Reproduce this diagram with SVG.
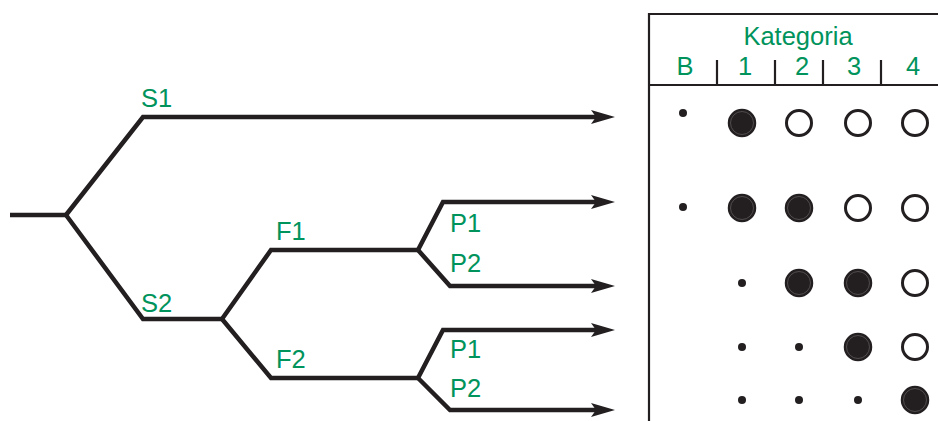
<svg xmlns="http://www.w3.org/2000/svg" width="938" height="421" viewBox="0 0 938 421">
<style>
.br{fill:none;stroke:#231f20;stroke-width:4.5;stroke-linejoin:miter}
.ar{marker-end:url(#arr)}
.lb{font-family:"Liberation Sans",Arial,sans-serif;font-size:25.5px;fill:#00935c}
.hd{font-family:"Liberation Sans",Arial,sans-serif;font-size:25.5px;fill:#00935c;text-anchor:middle}
.tb{fill:none;stroke:#231f20;stroke-width:2.2}
.f{fill:#231f20;stroke:#231f20;stroke-width:1.5}
.fi{fill:none;stroke:#6e6a6b;stroke-width:0.6}
.o{fill:#fff;stroke:#231f20;stroke-width:3}
.d{fill:#231f20}
</style>
<defs>
<marker id="arr" markerUnits="userSpaceOnUse" viewBox="0 0 24 14" refX="5" refY="7" markerWidth="24" markerHeight="14" orient="auto">
<path d="M0,0 L24,7 L0,14 L5,7 Z" fill="#231f20"/>
</marker>
<g id="full"><circle r="13.5" class="f"/><circle r="11.5" class="fi"/></g>
<circle id="open" r="12.5" class="o"/>
<circle id="dot" r="4" class="d"/>
</defs>
<g id="connectors">
<path class="br" d="M10,215 H66"/>
<path class="br ar" d="M66,215 L143,117 H596"/>
<path class="br" d="M66,215 L143,319 H222"/>
<path class="br" d="M222,319 L271,250 H418"/>
<path class="br" d="M222,319 L271,378 H418"/>
<path class="br ar" d="M418,250 L443,202 H596"/>
<path class="br ar" d="M418,250 L450,286 H596"/>
<path class="br ar" d="M418,378 L443,330 H596"/>
<path class="br ar" d="M418,378 L450,410 H596"/>
</g>
<g id="node-S1"><text class="lb" x="141" y="107">S1</text></g>
<g id="node-S2"><text class="lb" x="141" y="312">S2</text></g>
<g id="node-F1"><text class="lb" x="276" y="240">F1</text></g>
<g id="node-F2"><text class="lb" x="276" y="368">F2</text></g>
<g id="node-F1P1"><text class="lb" x="450" y="232">P1</text></g>
<g id="node-F1P2"><text class="lb" x="450" y="272">P2</text></g>
<g id="node-F2P1"><text class="lb" x="450" y="358">P1</text></g>
<g id="node-F2P2"><text class="lb" x="450" y="397">P2</text></g>
<g id="table">
<path class="tb" d="M649,421 V14 H938"/>
<path class="tb" d="M649,85 H938"/>
<path class="tb" d="M717,60 V85 M775,60 V85 M823,60 V85 M881,60 V85"/>
<text class="hd" x="798" y="45">Kategoria</text>
<text class="hd" x="685" y="75">B</text>
<text class="hd" x="745" y="75">1</text>
<text class="hd" x="802" y="75">2</text>
<text class="hd" x="854" y="75">3</text>
<text class="hd" x="913" y="75">4</text>
</g>
<g id="row1">
<use href="#dot" x="683" y="113"/>
<use href="#full" x="742" y="123"/>
<use href="#open" x="799" y="123"/>
<use href="#open" x="858" y="123"/>
<use href="#open" x="915" y="123"/>
</g>
<g id="row2">
<use href="#dot" x="683" y="207"/>
<use href="#full" x="742" y="208"/>
<use href="#full" x="799" y="208"/>
<use href="#open" x="858" y="208"/>
<use href="#open" x="915" y="208"/>
</g>
<g id="row3">
<use href="#dot" x="742" y="283"/>
<use href="#full" x="799" y="283"/>
<use href="#full" x="858" y="283"/>
<use href="#open" x="915" y="283"/>
</g>
<g id="row4">
<use href="#dot" x="742" y="347"/>
<use href="#dot" x="799" y="347"/>
<use href="#full" x="858" y="347"/>
<use href="#open" x="915" y="347"/>
</g>
<g id="row5">
<use href="#dot" x="742" y="400"/>
<use href="#dot" x="799" y="400"/>
<use href="#dot" x="858" y="400"/>
<use href="#full" x="915" y="400"/>
</g>
</svg>
